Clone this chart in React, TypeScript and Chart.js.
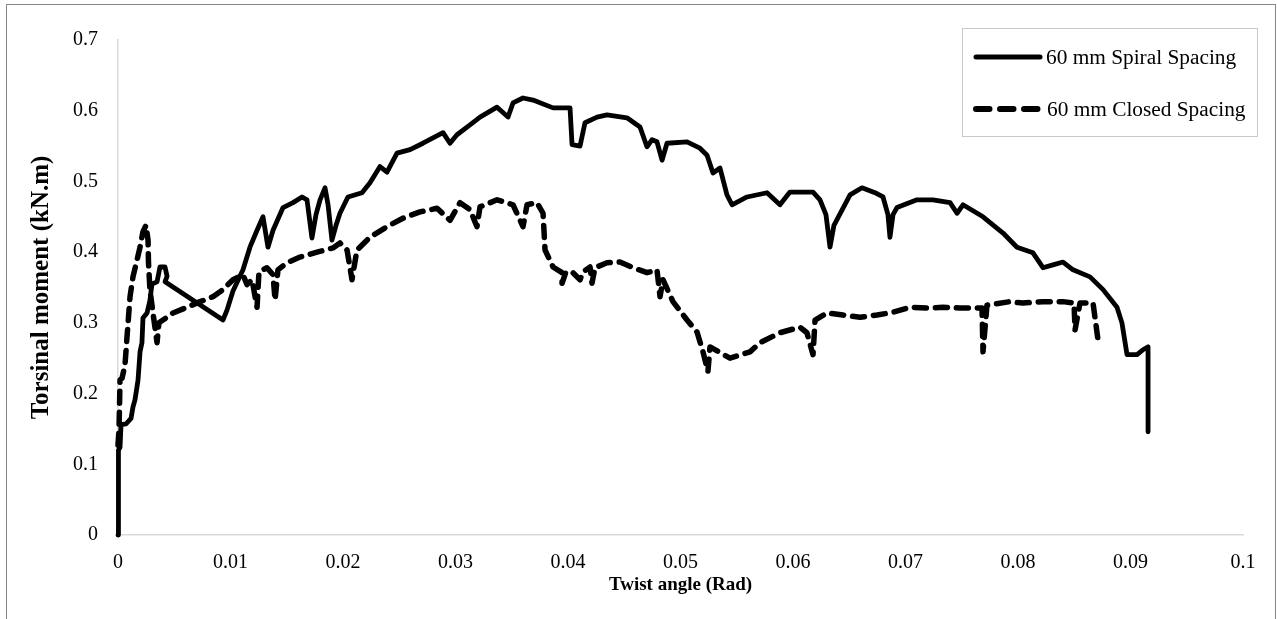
import { useEffect, useRef } from "react";
import { Chart, registerables } from "chart.js";

Chart.register(...registerables);

// ---- Data ----
const seriesLabels = ["60 mm Spiral Spacing", "60 mm Closed Spacing"];
const xTitle = "Twist angle (Rad)";
const yTitle = "Torsinal moment (kN.m)";

const xTicks = [0, 0.01, 0.02, 0.03, 0.04, 0.05, 0.06, 0.07, 0.08, 0.09, 0.1];
const yTicks = [0, 0.1, 0.2, 0.3, 0.4, 0.5, 0.6, 0.7];

const spiralX = [
  0, 0.00004, 0.00018, 0.00027, 0.00071, 0.00116, 0.00133, 0.00151, 0.00178, 0.00196,
  0.00213, 0.00222, 0.00258, 0.00284, 0.00302, 0.00347, 0.00373, 0.00418, 0.00436, 0.00418,
  0.00933, 0.00969, 0.01022, 0.01111, 0.01173, 0.01236, 0.01289, 0.01333, 0.01378, 0.01467,
  0.01556, 0.01636, 0.0168, 0.01724, 0.0176, 0.01796, 0.0184, 0.01867, 0.01902, 0.01938,
  0.01973, 0.02044, 0.02169, 0.0224, 0.02329, 0.02391, 0.0248, 0.02596, 0.02711, 0.02889,
  0.02951, 0.03013, 0.03129, 0.03218, 0.03369, 0.03467, 0.03511, 0.036, 0.03689, 0.03867,
  0.04018, 0.04036, 0.04107, 0.04151, 0.04258, 0.04347, 0.04524, 0.0464, 0.04702, 0.04747,
  0.04791, 0.04836, 0.0488, 0.05058, 0.05173, 0.05236, 0.05289, 0.05351, 0.05413, 0.05458,
  0.05591, 0.05769, 0.05884, 0.05973, 0.06178, 0.0624, 0.06293, 0.06329, 0.06364, 0.06507,
  0.06613, 0.06729, 0.068, 0.06844, 0.06862, 0.06889, 0.06924, 0.07102, 0.07244, 0.07396,
  0.07458, 0.07511, 0.07689, 0.07867, 0.07991, 0.08133, 0.08222, 0.08311, 0.084, 0.08489,
  0.0864, 0.08756, 0.0888, 0.08924, 0.08969, 0.09058, 0.09111, 0.09156, 0.09156,
];
const spiralY = [
  0, 0.12, 0.124, 0.156, 0.157, 0.165, 0.181, 0.191, 0.219, 0.259,
  0.272, 0.307, 0.314, 0.332, 0.355, 0.358, 0.379, 0.379, 0.366, 0.358,
  0.304, 0.318, 0.345, 0.375, 0.407, 0.431, 0.45, 0.407, 0.431, 0.463,
  0.47, 0.478, 0.474, 0.42, 0.453, 0.474, 0.491, 0.467, 0.417, 0.438,
  0.455, 0.478, 0.484, 0.498, 0.521, 0.513, 0.54, 0.545, 0.554, 0.569,
  0.554, 0.566, 0.58, 0.591, 0.605, 0.591, 0.611, 0.618, 0.615, 0.604,
  0.604, 0.552, 0.55, 0.583, 0.591, 0.594, 0.59, 0.577, 0.549, 0.559,
  0.556, 0.53, 0.554, 0.556, 0.547, 0.537, 0.512, 0.519, 0.481, 0.467,
  0.478, 0.484, 0.467, 0.485, 0.485, 0.474, 0.453, 0.407, 0.438, 0.481,
  0.491, 0.484, 0.478, 0.453, 0.421, 0.453, 0.463, 0.474, 0.474, 0.47,
  0.455, 0.467, 0.45, 0.427, 0.407, 0.399, 0.378, 0.382, 0.386, 0.375,
  0.365, 0.347, 0.322, 0.3, 0.255, 0.255, 0.262, 0.266, 0.146,
];

const closedX = [
  0, 0.00009, 0.00018, 0.00036, 0.00062, 0.0008, 0.00107, 0.00133, 0.00169, 0.00196,
  0.00222, 0.00249, 0.00267, 0.00271, 0.00284, 0.00311, 0.00347, 0.00364, 0.004, 0.00489,
  0.00613, 0.00729, 0.00844, 0.00933, 0.01022, 0.01111, 0.01147, 0.01191, 0.01236, 0.01253,
  0.01324, 0.01378, 0.01396, 0.01422, 0.01502, 0.01618, 0.01769, 0.01911, 0.01973, 0.02036,
  0.0208, 0.02124, 0.0224, 0.02391, 0.02533, 0.02684, 0.02836, 0.02951, 0.0304, 0.03129,
  0.03191, 0.03218, 0.03369, 0.03511, 0.036, 0.03636, 0.03724, 0.03778, 0.03796, 0.03867,
  0.03947, 0.03947, 0.03982, 0.04044, 0.04107, 0.04133, 0.04196, 0.04213, 0.0424, 0.04347,
  0.04462, 0.04578, 0.04702, 0.04791, 0.04818, 0.04844, 0.04933, 0.05058, 0.05147, 0.052,
  0.05244, 0.05262, 0.0544, 0.05618, 0.05707, 0.05884, 0.06062, 0.06124, 0.06178, 0.06196,
  0.06302, 0.06444, 0.06596, 0.06747, 0.06889, 0.0704, 0.07191, 0.07333, 0.07484, 0.0768,
  0.07689, 0.07724, 0.07929, 0.08044, 0.08222, 0.084, 0.08498, 0.08507, 0.08551, 0.08667,
  0.08711,
];
const closedY = [
  0.127, 0.149, 0.219, 0.222, 0.24, 0.28, 0.337, 0.365, 0.389, 0.407,
  0.429, 0.438, 0.417, 0.385, 0.347, 0.314, 0.272, 0.3, 0.304, 0.314,
  0.322, 0.33, 0.337, 0.347, 0.361, 0.368, 0.354, 0.361, 0.322, 0.372,
  0.378, 0.368, 0.332, 0.375, 0.385, 0.393, 0.4, 0.406, 0.413, 0.403,
  0.361, 0.403, 0.421, 0.436, 0.448, 0.457, 0.462, 0.445, 0.47, 0.46,
  0.436, 0.464, 0.474, 0.467, 0.436, 0.467, 0.47, 0.455, 0.403, 0.379,
  0.371, 0.356, 0.372, 0.371, 0.361, 0.372, 0.379, 0.356, 0.378, 0.385,
  0.386, 0.378, 0.371, 0.375, 0.337, 0.361, 0.33, 0.304, 0.287, 0.259,
  0.231, 0.266, 0.25, 0.259, 0.272, 0.286, 0.294, 0.286, 0.255, 0.304,
  0.314, 0.311, 0.308, 0.311, 0.315, 0.322, 0.321, 0.322, 0.321, 0.321,
  0.259, 0.325, 0.33, 0.328, 0.33, 0.33, 0.328, 0.29, 0.328, 0.328,
  0.276,
];

const FONT = "'Liberation Serif', 'Times New Roman', serif";
const LEGEND_SIZE = 21.33;
const TICK_SIZE = 20;
const XTITLE_SIZE = 19;
const YTITLE_SIZE = 25;

export default function App() {
  const ref = useRef<HTMLCanvasElement>(null);

  useEffect(() => {
    const canvas = ref.current;
    if (!canvas) return;

    const framePlugin = {
      id: "frame",
      beforeDraw(chart: any) {
        const ctx = chart.ctx;
        ctx.save();
        ctx.fillStyle = "#ffffff";
        ctx.fillRect(0, 0, chart.width, chart.height);
        ctx.strokeStyle = "#868686";
        ctx.lineWidth = 1;
        ctx.strokeRect(6.5, 4.5, 1269, 700);
        ctx.restore();
      },
    };

    const legendPlugin = {
      id: "boxLegend",
      afterDraw(chart: any) {
        const ctx = chart.ctx;
        ctx.save();
        ctx.strokeStyle = "#c8c8c8";
        ctx.lineWidth = 1;
        ctx.strokeRect(962.5, 28.5, 295, 108);
        const rows = [57, 109];
        chart.data.datasets.forEach((ds: any, i: number) => {
          const y = rows[i];
          ctx.beginPath();
          ctx.strokeStyle = ds.borderColor;
          ctx.lineWidth = i === 0 ? 5 : 6;
          ctx.lineCap = "round";
          ctx.setLineDash(ds.borderDash ? [13.5, 10.5] : []);
          ctx.moveTo(976, y);
          ctx.lineTo(i === 0 ? 1040 : 1038, y);
          ctx.stroke();
          ctx.setLineDash([]);
          ctx.fillStyle = "#000";
          ctx.font = `${LEGEND_SIZE}px ${FONT}`;
          ctx.textBaseline = "middle";
          ctx.textAlign = "left";
          ctx.fillText(ds.label, i === 0 ? 1046 : 1047, y + 1);
        });
        ctx.restore();
      },
    };

    const chart = new Chart(canvas, {
      type: "scatter",
      data: {
        datasets: [
          {
            label: seriesLabels[0],
            data: spiralX.map((x, i) => ({ x, y: spiralY[i] })),
            showLine: true,
            borderColor: "#000000",
            backgroundColor: "#000000",
            borderWidth: 4.8,
            pointRadius: 0,
            pointHoverRadius: 0,
            tension: 0,
            borderCapStyle: "round",
            borderJoinStyle: "round",
            clip: 10,
          },
          {
            label: seriesLabels[1],
            data: closedX.map((x, i) => ({ x, y: closedY[i] })),
            showLine: true,
            borderColor: "#000000",
            backgroundColor: "#000000",
            borderWidth: 5.5,
            borderDash: [12, 9],
            pointRadius: 0,
            pointHoverRadius: 0,
            tension: 0,
            borderCapStyle: "round",
            borderJoinStyle: "round",
            clip: 10,
          },
        ],
      },
      options: {
        responsive: false,
        animation: false,
        events: [],
        layout: { padding: { left: 23, top: 40, right: 34, bottom: 18.6 } },
        plugins: {
          legend: { display: false },
          tooltip: { enabled: false },
          title: { display: false },
        },
        scales: {
          x: {
            type: "linear",
            min: 0,
            max: 0.1,
            afterBuildTicks: (s: any) => {
              s.ticks = xTicks.map((v) => ({ value: v }));
            },
            afterFit: (s: any) => {
              s.height = 65.4;
            },
            ticks: {
              autoSkip: false,
              maxRotation: 0,
              padding: 8,
              color: "#000",
              font: { family: FONT, size: TICK_SIZE },
              callback: (v: any) => String(Math.round(Number(v) * 100) / 100),
            },
            grid: { display: false },
            border: { display: true, color: "#d9d9d9", width: 1.5 },
            title: {
              display: true,
              text: xTitle,
              color: "#000",
              font: { family: FONT, size: XTITLE_SIZE, weight: "bold" },
              padding: { top: 4, bottom: 4 },
            },
          },
          y: {
            type: "linear",
            min: 0,
            max: 0.7,
            afterBuildTicks: (s: any) => {
              s.ticks = yTicks.map((v) => ({ value: v }));
            },
            afterFit: (s: any) => {
              s.width = 95;
            },
            ticks: {
              autoSkip: false,
              padding: 12,
              color: "#000",
              font: { family: FONT, size: TICK_SIZE },
              callback: (v: any) => String(Math.round(Number(v) * 10) / 10),
            },
            grid: { display: false },
            border: { display: true, color: "#d9d9d9", width: 1.5 },
            title: {
              display: true,
              text: yTitle,
              color: "#000",
              font: { family: FONT, size: YTITLE_SIZE, weight: "bold" },
              padding: { top: 4, bottom: 4 },
            },
          },
        },
      },
      plugins: [framePlugin, legendPlugin],
    } as any);

    return () => chart.destroy();
  }, []);

  return (
    <div style={{ position: "fixed", left: 0, top: 0, width: 1277, height: 619, background: "#fff" }}>
      <canvas ref={ref} width={1277} height={619} style={{ display: "block", width: 1277, height: 619 }} />
    </div>
  );
}
